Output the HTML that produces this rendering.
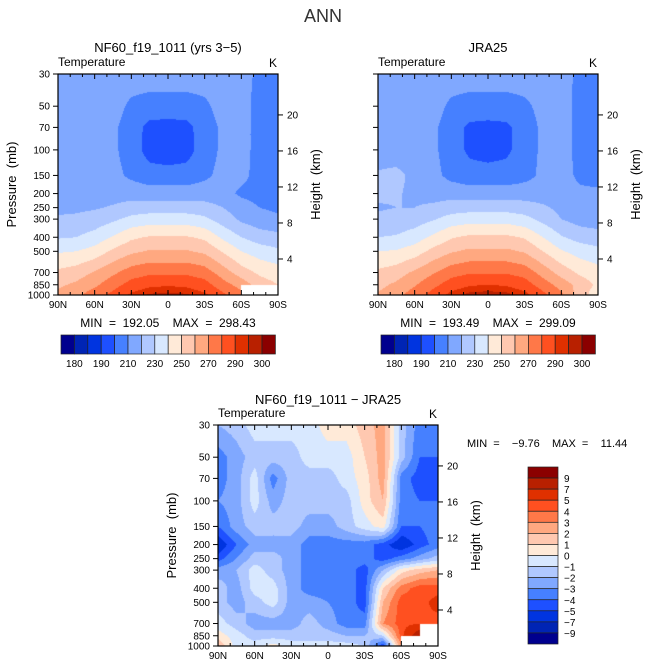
<!DOCTYPE html>
<html><head><meta charset="utf-8">
<style>
html,body{margin:0;padding:0;background:#fff;}
body{width:647px;height:670px;position:relative;overflow:hidden;font-family:"Liberation Sans",sans-serif;}
canvas{position:absolute;}
svg{position:absolute;left:0;top:0;}
svg text{white-space:pre;}
</style></head>
<body>
<canvas id="c1" width="220" height="221" style="left:58px;top:74px"></canvas>
<canvas id="c2" width="220" height="221" style="left:378px;top:74px"></canvas>
<canvas id="c3" width="220" height="221" style="left:218px;top:425px"></canvas>
<svg id="ov" width="647" height="670"></svg>
<script>
const lats=[90,75,60,45,30,15,0,-15,-30,-45,-60,-75,-90];
const levels=[30,50,70,100,150,200,250,300,400,500,700,850,1000];
const palette=["#00008e","#0024b4","#0034e0","#1e50ff","#4680ff","#80a8ff","#b0c8ff","#d8e8ff","#ffead8","#ffc8b0","#ffa880","#ff7848","#ff5020","#e03000","#b82000","#8b0000"];
const tempBounds=[180,185,190,200,210,220,230,240,250,260,270,280,290,295,300];
const tempLabels=["180","190","210","230","250","270","290","300"];
const diffBounds=[-9,-7,-5,-4,-3,-2,-1,0,1,2,3,4,5,7,9];
const diffLabels=["-9","-7","-5","-4","-3","-2","-1","0","1","2","3","4","5","7","9"];
const N=NaN;
const modelT=[
[215,215,215,215,215,215,215,215,215,215,215,207,205],
[215,215,215,214,208,206,206,206,208,214,214,206,204],
[215,215,215,212,205,197,196,197,205,212,214,206,204],
[215,215,215,212,205,196,194,196,205,212,214,206,204],
[215,215,215,213,208,204,204,204,208,213,213,206,204],
[216,216,216,216,216,215,215,215,215,214,208,206,205],
[218,218,219,221,224,225,225,225,224,220,215,210,208],
[221,222,224,228,233,235,235,235,232,225,218,214,212],
[229,230,234,241,248,251,251,251,248,238,230,225,223],
[239,240,244,252,258,261,261,261,258,249,240,235,232],
[252,255,261,268,275,278,278,278,275,265,255,248,245],
[258,262,268,276,284,288,289,288,284,274,266,255,250],
[263,268,275,283,292,296,297,296,292,282,273,N,N]];
const jraT=[
[215,215,215,215,215,215,215,215,215,215,215,207,205],
[215,215,215,214,208,206,206,206,208,213,214,207,205],
[215,215,215,212,205,198,197,198,205,212,214,207,205],
[216,216,215,212,205,198,196,198,205,212,214,207,205],
[221,222,218,213,207,204,204,204,207,212,214,208,206],
[222,221,218,216,216,215,215,215,215,214,214,212,212],
[219,220,220,222,225,226,226,226,225,222,217,214,213],
[222,223,225,229,234,236,236,236,233,227,220,216,215],
[230,231,235,242,249,252,252,252,249,240,231,226,224],
[240,241,245,253,259,262,262,262,259,250,241,236,233],
[252,255,262,269,276,279,279,279,276,266,256,248,244],
[257,262,269,277,285,289,290,289,285,275,266,256,248],
[261,267,275,284,293,297,298,297,293,283,272,255,244]];
const diffT=[
[-2,-1.5,-0.5,-0.5,-0.5,-0.5,0.5,0.5,1.5,2.5,-1.5,-3.5,-4],
[-3.5,-2.5,-1.5,-1.5,-1.5,-0.5,-0.5,-0.5,1,2.5,-1.5,-4,-4],
[-3.5,-2.5,-0.5,-3.5,-1.5,-1.5,-1.5,-0.5,0.5,2.5,-3.5,-4.5,-4.5],
[-3,-2.5,-0.5,-2.5,-1.5,-1.5,-1.5,-1.5,0.5,2,-3.5,-4,-4],
[-4,-2.5,-1.5,-1.5,-1.5,-2.5,-2.5,-1.5,-0.5,0.5,-4,-4,-3.5],
[-6,-4,-2.5,-2.5,-2.5,-3.5,-3.5,-3.5,-3.5,-4.5,-6,-4.5,-3.5],
[-4.5,-3,-1.5,-1.5,-2.5,-3.5,-3.5,-3.5,-3.5,-4.5,-3.5,-2.5,-1.5],
[-2.5,-2,-0.5,-1.5,-2.5,-3.5,-3.5,-3.5,-4.5,-2,0.5,1.5,2],
[-1.5,-2.5,-0.5,-0.5,-2.5,-3.5,-3.5,-3.5,-4.5,1,3.5,4.5,4.5],
[-1.5,-2.5,-1.5,-0.5,-2.5,-2.5,-3,-3.5,-4.5,2,4.5,4.5,5.5],
[-0.5,-1.5,-2.5,-2.5,-2.5,-1.5,-2.5,-3.5,-3.5,3,4.5,5,4.5],
[0.5,-0.5,-1.5,-1.5,-1.5,-1.5,-1.5,-2,-2,-1,4.5,9,N],
[2,-0.5,-0.5,0.5,-0.5,-0.5,-0.5,-0.5,-1,-5,3,N,N]];

const W=220,H=221;
const LP=Math.log(1000/30);
function yOfP(p){return Math.log(p/30)/LP*H;}
function xOfLat(l){return (90-l)/180*W;}
function hexRGB(h){return [parseInt(h.substr(1,2),16),parseInt(h.substr(3,2),16),parseInt(h.substr(5,2),16)];}
const pal=palette.map(hexRGB);
function colorIdx(v,b){let i=0;while(i<b.length&&v>=b[i])i++;return i;}
function fill(id,grid,bounds){
  const cv=document.getElementById(id),ctx=cv.getContext('2d');
  const img=ctx.createImageData(W,H);
  const ly=levels.map(yOfP), lx=lats.map(xOfLat);
  for(let py=0;py<H;py++){
    let j=0;while(j<levels.length-2&&ly[j+1]<py+0.5)j++;
    const ty=Math.min(1,Math.max(0,(py+0.5-ly[j])/(ly[j+1]-ly[j])));
    for(let px=0;px<W;px++){
      let i=0;while(i<lats.length-2&&lx[i+1]<px+0.5)i++;
      const tx=Math.min(1,Math.max(0,(px+0.5-lx[i])/(lx[i+1]-lx[i])));
      const a=grid[j][i],b=grid[j][i+1],c=grid[j+1][i],d=grid[j+1][i+1];
      const v=(a*(1-tx)+b*tx)*(1-ty)+(c*(1-tx)+d*tx)*ty;
      const k=(py*W+px)*4;
      if(isNaN(v)){img.data[k]=255;img.data[k+1]=255;img.data[k+2]=255;}
      else{const col=pal[colorIdx(v,bounds)];img.data[k]=col[0];img.data[k+1]=col[1];img.data[k+2]=col[2];}
      img.data[k+3]=255;
    }
  }
  ctx.putImageData(img,0,0);
}
fill('c1',modelT,tempBounds);
fill('c2',jraT,tempBounds);
fill('c3',diffT,diffBounds);

const svg=document.getElementById('ov');
const NS='http://www.w3.org/2000/svg';
function el(tag,at,parent){const e=document.createElementNS(NS,tag);for(const k in at)e.setAttribute(k,at[k]);(parent||svg).appendChild(e);return e;}
function txt(x,y,s,size,anchor,name,extra){const t=el('text',Object.assign({x:x,y:y,'font-size':size,'text-anchor':anchor||'middle',fill:'#000','font-family':'Liberation Sans, sans-serif'},extra||{}));t.textContent=s;


return t;}
const xTickLats=[90,60,30,0,-30,-60,-90];
const xTickLabels=["90N","60N","30N","0","30S","60S","90S"];
const pTickLabels=["30","50","70","100","150","200","250","300","400","500","700","850","1000"];
const kmTicks=[4,8,12,16,20];
function panel(x0,y0,name,leftLabels){
  const g=el('g',{});
  
  
  el('rect',{x:x0,y:y0,width:W,height:H,fill:'none',stroke:'#000','stroke-width':1.2},g);
  for(let l=90;l>=-90;l-=10){const x=x0+xOfLat(l);const major=(l%30===0);const len=major?5:3;
    el('line',{x1:x,y1:y0,x2:x,y2:y0+len,stroke:'#000'},g);
    el('line',{x1:x,y1:y0+H,x2:x,y2:y0+H-len,stroke:'#000'},g);}
  xTickLats.forEach((l,i)=>{txt(x0+xOfLat(l),y0+H+13,xTickLabels[i],10,'middle','x-tick-label');});
  levels.forEach((p,i)=>{const y=y0+yOfP(p);el('line',{x1:x0,y1:y,x2:x0-5,y2:y,stroke:'#000'},g);
    if(leftLabels)txt(x0-8,y+3.5,pTickLabels[i],10,'end','y-tick-label');});
  kmTicks.forEach(z=>{const p=1000*Math.exp(-z/7);const y=y0+yOfP(p);el('line',{x1:x0+W,y1:y,x2:x0+W+5,y2:y,stroke:'#000'},g);
    txt(x0+W+9,y+3.5,String(z),10,'start','height-tick-label');});
  txt(x0,y0-8,'Temperature',12,'start','variable-label');
  txt(x0+W-1,y0-7,'K',12,'end','units-label');
  if(leftLabels)txt(x0-42,y0+H/2,'Pressure  (mb)',13,'middle','y-axis-title',{transform:`rotate(-90 ${x0-42} ${y0+H/2})`});
  txt(x0+W+42,y0+H/2,'Height  (km)',13,'middle','right-axis-title',{transform:`rotate(-90 ${x0+W+42} ${y0+H/2})`});
}
panel(58,74,'model',true);panel(378,74,'jra25',false);panel(218,425,'diff',true);

txt(323,22,'ANN',18,'middle','figure-title',{fill:'#333'});
txt(168,52,'NF60_f19_1011 (yrs 3\u22125)',13,'middle','model-panel-title');
txt(488,52,'JRA25',13,'middle','jra25-panel-title');
txt(328,404,'NF60_f19_1011 \u2212 JRA25',13,'middle','diff-panel-title');
txt(168,327,'MIN  =  192.05    MAX  =  298.43',12,'middle','model-min-max');
txt(488,327,'MIN  =  193.49    MAX  =  299.09',12,'middle','jra25-min-max');
txt(467,447,'MIN  =    \u22129.76    MAX  =    11.44',11,'start','diff-min-max');

function hbar(x0,name){
  const bw=13.4,y0=335,h=19;
  palette.forEach((c,i)=>{const r=el('rect',{x:x0+i*bw,y:y0,width:bw,height:h,fill:c,stroke:'#222','stroke-width':0.7});
    
    });
  tempLabels.forEach((s,k)=>{txt(x0+(2*k+1)*bw,y0+h+13,s,10,'middle',name+'-label');});
}
hbar(61,'model-colorbar');hbar(381,'jra25-colorbar');
(function(){
  const x0=528,y0=467,bw=30,bh=177/16;
  for(let i=0;i<16;i++){const r=el('rect',{x:x0,y:y0+i*bh,width:bw,height:bh,fill:palette[15-i],stroke:'#222','stroke-width':0.7});
    
    }
  diffLabels.forEach((s,k)=>{const y=y0+(15-k)*bh;txt(x0+bw+6,y+4,s.replace('-','\u2212'),10,'start','diff-colorbar-label');});
})();
</script>
</body></html>
